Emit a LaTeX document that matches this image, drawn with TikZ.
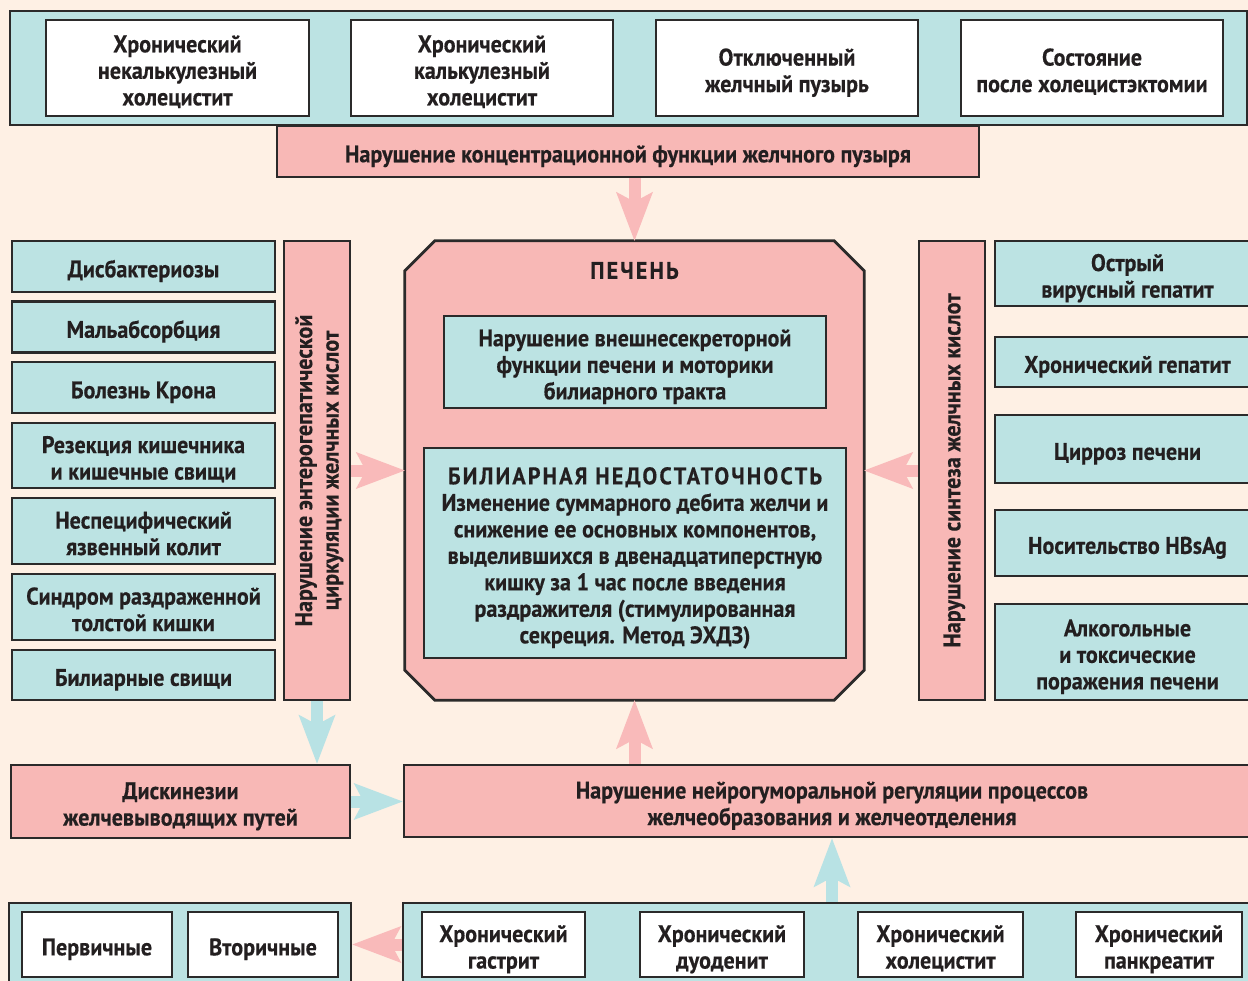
\documentclass[tikz,border=0pt]{standalone}
\usepackage{fontspec}
\setmainfont{PT Sans}[FakeStretch=0.92, BoldFeatures={FakeBold=0.4}]
\newfontfamily\spacedfont{PT Sans}[FakeStretch=0.92, LetterSpace=9, BoldFeatures={FakeBold=0.4}]
\usetikzlibrary{arrows.meta}

\definecolor{bgpeach}{HTML}{FEF0E4}
\definecolor{tealbox}{HTML}{BCE3E3}
\definecolor{pinkbox}{HTML}{F8B8B6}
\definecolor{edgec}{HTML}{2B2A2A}
\definecolor{ink}{HTML}{231F20}
\definecolor{pinkarrow}{HTML}{F9BABA}
\definecolor{tealarrow}{HTML}{B8E2E4}
\newcommand\boxfont{\fontsize{24}{26.5}\selectfont\bfseries}
% lines of a label, set a little low as in the print
\newcommand\txt[1]{\raisebox{-5.5pt}[\height][\depth]{\begin{tabular}{@{}c@{}}#1\end{tabular}}}

\tikzset{
  box/.style={draw=edgec, line width=2.8pt, inner sep=2pt, text=ink, font=\boxfont},
  tealbx/.style={box, fill=tealbox},
  pinkbx/.style={box, fill=pinkbox},
  whitebx/.style={box, fill=white},
  wh/.style 2 args={minimum width=#1, minimum height=#2},
  vtext/.style={rotate=90, text=ink, font=\boxfont},
  pinkarr/.style={draw=pinkarrow, line width=12pt,
    -{Stealth[length=49pt, width=37pt, inset=10pt, line width=0pt, fill=pinkarrow]}},
  tealarr/.style={draw=tealarrow, line width=12pt,
    -{Stealth[length=49pt, width=37pt, inset=10pt, line width=0pt, fill=tealarrow]}}
}

\begin{document}
\begin{tikzpicture}[x=1pt, y=-1pt]
  \useasboundingbox (0,0) rectangle (1248,981);
  \fill[bgpeach] (0,0) rectangle (1248,981);
  \clip (0,0) rectangle (1248,981);

  % top band: causes in the gallbladder
  \node[tealbx, wh={1237pt}{114pt}] (topband) at (628.5,68) {};
  \node[whitebx, wh={263pt}{96pt}] (t1) at (177.5,68) {\txt{Хронический\\некалькулезный\\холецистит}};
  \node[whitebx, wh={262pt}{96pt}] (t2) at (482,68) {\txt{Хронический\\калькулезный\\холецистит}};
  \node[whitebx, wh={262pt}{96pt}] (t3) at (787,68) {\txt{Отключенный\\желчный пузырь}};
  \node[whitebx, wh={262pt}{96pt}] (t4) at (1092,68) {\txt{Состояние\\после холецистэктомии}};
  \node[pinkbx, wh={702pt}{51pt}] (conc) at (628,151.5) {\txt{Нарушение концентрационной функции желчного пузыря}};

  % liver block
  \node[wh={459pt}{459pt}] (liver) at (634.5,470.5) {};
  \draw[fill=pinkbox, draw=edgec, line width=2.8pt]
    ([xshift=30pt]liver.north west) -- ([xshift=-30pt]liver.north east)
    -- ([yshift=-30pt]liver.north east) -- ([yshift=30pt]liver.south east)
    -- ([xshift=-30pt]liver.south east) -- ([xshift=30pt]liver.south west)
    -- ([yshift=30pt]liver.south west) -- ([yshift=-30pt]liver.north west) -- cycle;
  \node[text=ink, font=\boxfont] (livertitle) at (634.5,268) {\txt{\spacedfont ПЕЧЕНЬ}};
  \node[tealbx, wh={382pt}{92pt}] (extfn) at (635,362) {\txt{Нарушение внешнесекреторной\\функции печени и моторики\\билиарного тракта}};
  \node[tealbx, wh={422pt}{210pt}] (bil) at (635,553) {\txt{{\spacedfont БИЛИАРНАЯ НЕДОСТАТОЧНОСТЬ}\\Изменение суммарного дебита желчи и\\снижение ее основных компонентов,\\выделившихся в двенадцатиперстную\\кишку за 1 час после введения\\раздражителя (стимулированная\\секреция. Метод ЭХДЗ)}};

  % left column: intestinal causes
  \node[tealbx, wh={263pt}{51pt}] (l1) at (143.5,266.5) {\txt{Дисбактериозы}};
  \node[tealbx, wh={263pt}{51pt}] (l2) at (143.5,327) {\txt{Мальабсорбция}};
  \node[tealbx, wh={263pt}{51pt}] (l3) at (143.5,387.5) {\txt{Болезнь Крона}};
  \node[tealbx, wh={263pt}{65pt}] (l4) at (143.5,455.5) {\txt{Резекция кишечника\\и кишечные свищи}};
  \node[tealbx, wh={263pt}{66pt}] (l5) at (143.5,531) {\txt{Неспецифический\\язвенный колит}};
  \node[tealbx, wh={263pt}{66pt}] (l6) at (143.5,607) {\txt{Синдром раздраженной\\толстой кишки}};
  \node[tealbx, wh={263pt}{50pt}] (l7) at (143.5,675) {\txt{Билиарные свищи}};
  \node[pinkbx, wh={66pt}{459pt}] (entero) at (317,470.5) {};
  \node[vtext] (enterotext) at ([xshift=-2.5pt]entero.center) {\txt{Нарушение энтерогепатической\\циркуляции желчных кислот}};

  % right column: liver diseases
  \node[pinkbx, wh={66pt}{459pt}] (synth) at (952,470.5) {};
  \node[vtext] (synthtext) at ([xshift=-2.5pt]synth.center) {\txt{Нарушение синтеза желчных кислот}};
  \node[tealbx, wh={265pt}{65pt}] (r1) at (1127.5,273.5) {\txt{Острый\\вирусный гепатит}};
  \node[tealbx, wh={265pt}{50pt}] (r2) at (1127.5,362) {\txt{Хронический гепатит}};
  \node[tealbx, wh={265pt}{68pt}] (r3) at (1127.5,449) {\txt{Цирроз печени}};
  \node[tealbx, wh={265pt}{66pt}] (r4) at (1127.5,543) {\txt{Носительство HBsAg}};
  \node[tealbx, wh={265pt}{96pt}] (r5) at (1127.5,652) {\txt{Алкогольные\\и токсические\\поражения печени}};

  % regulation
  \node[pinkbx, wh={339pt}{73pt}] (dysk) at (180.5,801.5) {\txt{Дискинезии\\желчевыводящих путей}};
  \node[pinkbx, wh={856pt}{72pt}] (neuro) at (832,801) {\txt{Нарушение нейрогуморальной регуляции процессов\\желчеобразования и желчеотделения}};

  % bottom bands
  \node[tealbx, wh={342pt}{97pt}] (botL) at (180,951.5) {};
  \node[tealbx, wh={857pt}{97pt}] (botR) at (831.5,951.5) {};
  \node[whitebx, wh={150pt}{65pt}] (b1) at (97,944.5) {\txt{Первичные}};
  \node[whitebx, wh={150pt}{65pt}] (b2) at (263,944.5) {\txt{Вторичные}};
  \node[whitebx, wh={163pt}{65pt}] (b3) at (503.5,944.5) {\txt{Хронический\\гастрит}};
  \node[whitebx, wh={164pt}{65pt}] (b4) at (722,944.5) {\txt{Хронический\\дуоденит}};
  \node[whitebx, wh={165pt}{65pt}] (b5) at (940.5,944.5) {\txt{Хронический\\холецистит}};
  \node[whitebx, wh={166pt}{65pt}] (b6) at (1159,944.5) {\txt{Хронический\\панкреатит}};

  % arrows
  \draw[pinkarr] (conc.south -| liver.north) -- (liver.north);
  \draw[pinkarr] (entero.east) -- (liver.west);
  \draw[pinkarr] (synth.west) -- (liver.east);
  \draw[tealarr] (entero.south) -- (entero.south |- dysk.north);
  \draw[tealarr] (dysk.east) -- (dysk.east -| neuro.west);
  \draw[pinkarr] (neuro.north -| liver.south) -- (liver.south);
  \draw[tealarr] (botR.north -| neuro.south) -- (neuro.south);
  \draw[pinkarr] (b3 -| botR.west) -- (b3 -| botL.east);
\end{tikzpicture}
\end{document}
